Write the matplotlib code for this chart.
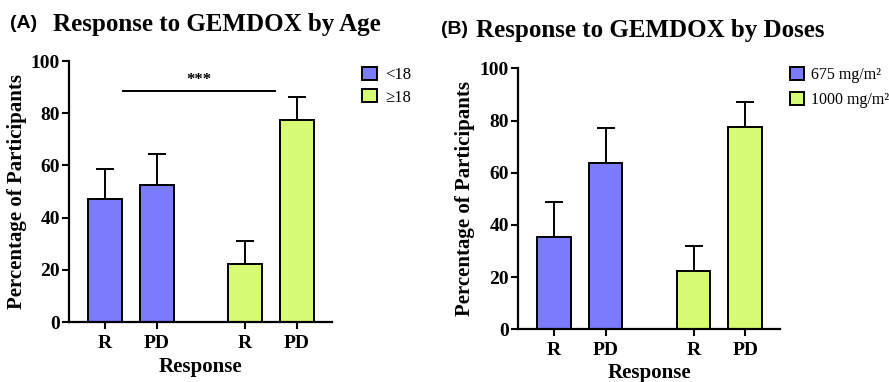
import numpy as np
import matplotlib
matplotlib.use('Agg')
import matplotlib.pyplot as plt

plt.rcParams['font.family'] = ['Liberation Serif', 'DejaVu Serif']

# 数据
groups = ['R', 'PD', 'R', 'PD']
age_vals = [47.0, 52.6, 22.1, 77.3]
age_err = [11.7, 11.6, 9.1, 9.0]
age_labels = ['<18', '\u226518']
dose_vals = [35.5, 63.9, 22.2, 77.5]
dose_err = [13.3, 13.3, 9.6, 9.5]
dose_labels = ['675 mg/m\u00b2', '1000 mg/m\u00b2']

blue = '#7B7CFC'
green = '#D8FB74'
pos = np.array([0, 1, 2.7, 3.7])


def draw_panel(ax, vals, err, labels, ylab_x, xlab_y):
    colors = [blue, blue, green, green]
    for i in range(4):
        ax.bar(pos[i], vals[i], width=0.65, color=colors[i], edgecolor='black',
               linewidth=1.4, zorder=2, label=labels[0] if i == 0 else (labels[1] if i == 2 else None))
        ax.errorbar(pos[i], vals[i], yerr=[[0], [err[i]]], fmt='none', ecolor='black',
                    elinewidth=1.4, capsize=6.5, capthick=1.4, zorder=1)
    ax.set_ylim(0, 100)
    ax.set_xlim(-0.69, 4.37)
    ax.set_yticks([0, 20, 40, 60, 80, 100])
    ax.set_xticks(pos)
    ax.set_xticklabels(groups, fontsize=14, fontweight='bold')
    for t in ax.get_yticklabels():
        t.set_fontsize(14)
        t.set_fontweight('bold')
    ax.spines['top'].set_visible(False)
    ax.spines['right'].set_visible(False)
    ax.spines['left'].set_linewidth(1.6)
    ax.spines['bottom'].set_linewidth(1.6)
    ax.tick_params(axis='y', direction='out', length=5, width=1.5, pad=1.5)
    ax.tick_params(axis='x', direction='out', length=5, width=1.5, pad=4)
    ax.set_ylabel('Percentage of Participants', fontsize=15, fontweight='bold', va='center')
    ax.set_xlabel('Response', fontsize=15, fontweight='bold', va='center')
    ax.yaxis.set_label_coords(ylab_x, 0.5)
    ax.xaxis.set_label_coords(0.5, xlab_y)


fig = plt.figure(figsize=(8.89, 3.82), dpi=100)

axA = fig.add_axes([0.0776, 0.157, 0.2958, 0.6832])
draw_panel(axA, age_vals, age_err, age_labels, -0.198, -0.172)
axA.plot([0.35, 3.27], [88.6, 88.6], color='black', linewidth=1.4)
axA.text(1.81, 89.5, '***', ha='center', va='bottom', fontsize=12, fontweight='bold')
axA.legend(loc='upper left', bbox_to_anchor=(1.059, 1.035), frameon=False, fontsize=12,
           handlelength=0.85, handleheight=0.85, handletextpad=0.5, labelspacing=0.35)

axB = fig.add_axes([0.5827, 0.138, 0.2947, 0.683])
draw_panel(axB, dose_vals, dose_err, dose_labels, -0.202, -0.167)
axB.legend(loc='upper left', bbox_to_anchor=(0.982, 1.06), frameon=False, fontsize=11.5,
           handlelength=0.9, handleheight=0.9, handletextpad=0.45, labelspacing=0.55)

# 标题
fig.text(10 / 889, 1 - 23 / 382, '(A)', family='Liberation Sans', fontweight='bold', fontsize=14, va='center')
fig.text(53 / 889, 1 - 24 / 382, 'Response to GEMDOX by Age', fontweight='bold', fontsize=18, va='center')
fig.text(441 / 889, 1 - 30 / 382, '(B)', family='Liberation Sans', fontweight='bold', fontsize=14, va='center')
fig.text(476 / 889, 1 - 31 / 382, 'Response to GEMDOX by Doses', fontweight='bold', fontsize=18, va='center')

plt.savefig('out.png', dpi=100)
